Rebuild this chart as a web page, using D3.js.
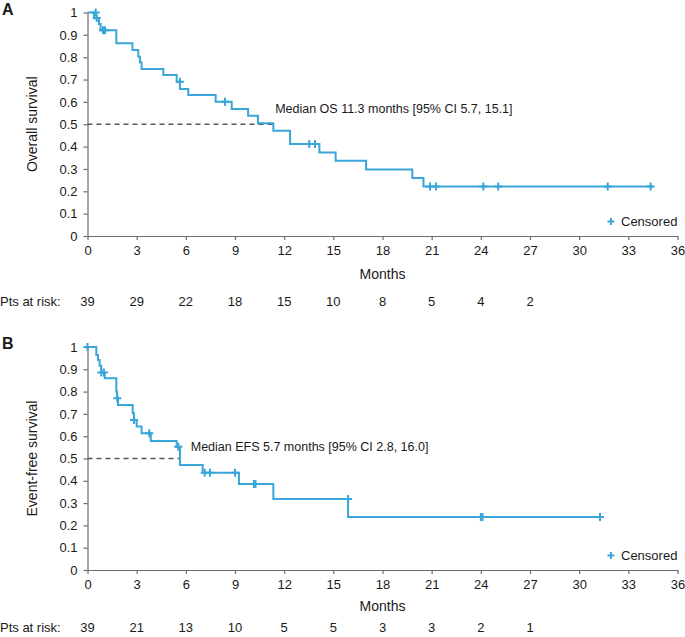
<!DOCTYPE html>
<html><head><meta charset="utf-8">
<script src="https://cdn.jsdelivr.net/npm/d3@7"></script>
<style>body{margin:0;background:#fff}svg{display:block}text{font-family:"Liberation Sans",Arial,sans-serif;fill:#1a1a1a}</style>
</head><body><svg id="c" width="685" height="637"></svg>
<script>
const xTicks = [0,3,6,9,12,15,18,21,24,27,30,33,36];
const yTicks = [0,0.1,0.2,0.3,0.4,0.5,0.6,0.7,0.8,0.9,1];
const yTickLabels = ["0","0.1","0.2","0.3","0.4","0.5","0.6","0.7","0.8","0.9","1"];
const riskTimes = [0,3,6,9,12,15,18,21,24,27];

// Panel A: overall survival
const osTime = [0,0.4,0.7,0.8,1.76,2.74,3.1,3.2,3.3,4.63,5.44,5.64,6.15,7.82,8.8,9.8,10.4,11.34,12.36,14.15,15.14,17.0,19.82,20.5,34.5];
const osSurv = [1,0.974,0.949,0.921,0.862,0.832,0.802,0.777,0.747,0.72,0.69,0.658,0.631,0.601,0.568,0.538,0.504,0.471,0.412,0.374,0.337,0.298,0.26,0.221,0.221];
const osCensTime = [0.5,0.56,0.95,1.07,5.64,8.39,13.53,13.88,20.9,21.26,24.15,25.06,31.74,34.36];
const osCensSurv = [1,0.975,0.921,0.921,0.69,0.601,0.412,0.412,0.221,0.221,0.221,0.221,0.221,0.221];
const osRisk = [39,29,22,18,15,10,8,5,4,2];

// Panel B: event-free survival
const efsTime = [0,0.54,0.64,0.74,0.84,1.05,1.76,1.80,1.86,2.76,2.84,3.0,3.3,3.86,5.44,5.64,7.03,9.24,11.34,15.9,31.45];
const efsSurv = [1,0.964,0.942,0.916,0.886,0.86,0.80,0.77,0.74,0.703,0.673,0.643,0.613,0.578,0.553,0.471,0.436,0.386,0.318,0.238,0.238];
const efsCensTime = [0,0.84,1.0,1.82,2.84,3.77,5.54,7.15,7.47,9.0,10.15,10.25,15.9,24.0,24.1,31.27];
const efsCensSurv = [1,0.886,0.886,0.77,0.673,0.613,0.553,0.436,0.436,0.436,0.386,0.386,0.318,0.238,0.238,0.238];
const efsRisk = [39,21,13,10,5,5,3,3,2,1];

const panels = [
  {letter:"A", ylabel:"Overall survival", time:osTime, surv:osSurv, ct:osCensTime, cs:osCensSurv, risk:osRisk,
   median:11.3, medText:"Median OS 11.3 months [95% CI 5.7, 15.1]", medX:11.45, medY:0.55, top:12.5, bottom:236,
   monthsY:43, riskY:70},
  {letter:"B", ylabel:"Event-free survival", time:efsTime, surv:efsSurv, ct:efsCensTime, cs:efsCensSurv, risk:efsRisk,
   median:5.7, medText:"Median EFS 5.7 months [95% CI 2.8, 16.0]", medX:6.3, medY:0.533, top:347, bottom:570,
   monthsY:41, riskY:62}
];

const blue = "#3aa5d8";
const axisCol = "#6b6b6b";
const svg = d3.select("#c");
const x = d3.scaleLinear().domain([0,36]).range([87.5,677.5]);

panels.forEach(p => {
  const y = d3.scaleLinear().domain([0,1]).range([p.bottom,p.top]);
  const g = svg.append("g");
  g.append("text").attr("x",2).attr("y",p.top+2).attr("font-size",16).attr("font-weight","bold").text(p.letter);

  const ya = g.append("g").attr("transform",`translate(${x(0)},0)`)
    .call(d3.axisLeft(y).tickValues(yTicks).tickFormat((d,i)=>yTickLabels[i]).tickSize(4).tickSizeOuter(0).tickPadding(6));
  const xa = g.append("g").attr("transform",`translate(0,${p.bottom})`)
    .call(d3.axisBottom(x).tickValues(xTicks).tickSize(4).tickSizeOuter(0).tickPadding(6));
  [ya,xa].forEach(a=>{
    a.select(".domain").attr("stroke",axisCol).attr("stroke-width",1.2);
    a.selectAll(".tick line").attr("stroke",axisCol).attr("stroke-width",1.2);
    a.selectAll(".tick text").attr("font-size",13).attr("fill","#1a1a1a").attr("font-family","Liberation Sans, Arial, sans-serif");
  });

  g.append("text").attr("transform",`translate(37,${(p.top+p.bottom)/2}) rotate(-90)`)
    .attr("text-anchor","middle").attr("font-size",14).text(p.ylabel);
  g.append("text").attr("x",x(18)).attr("y",p.bottom+p.monthsY).attr("text-anchor","middle").attr("font-size",14).text("Months");
  g.append("text").attr("x",0).attr("y",p.bottom+p.riskY).attr("font-size",13).text("Pts at risk:");
  g.selectAll(".risk").data(p.risk).enter().append("text")
    .attr("x",(d,i)=>x(riskTimes[i])).attr("y",p.bottom+p.riskY).attr("text-anchor","middle").attr("font-size",13).text(d=>d);

  // median dashed line
  g.append("line").attr("x1",x(0)).attr("x2",x(p.median)).attr("y1",y(0.5)).attr("y2",y(0.5))
    .attr("stroke","#555").attr("stroke-width",1.3).attr("stroke-dasharray","5,4");
  g.append("text").attr("x",x(p.medX)).attr("y",y(p.medY)).attr("font-size",12.5).text(p.medText);

  const pts = p.time.map((t,i)=>[t,p.surv[i]]);
  const line = d3.line().x(d=>x(d[0])).y(d=>y(d[1])).curve(d3.curveStepAfter);
  g.append("path").attr("d",line(pts)).attr("fill","none").attr("stroke",blue).attr("stroke-width",2);

  const cens = p.ct.map((t,i)=>[t,p.cs[i]]);
  const arm = 4;
  g.selectAll(".cens").data(cens).enter().append("path")
    .attr("d",d=>{const cx=x(d[0]),cy=y(d[1]);return `M${cx-arm},${cy}H${cx+arm}M${cx},${cy-arm}V${cy+arm}`;})
    .attr("stroke",blue).attr("stroke-width",2).attr("fill","none");

  // legend
  const lx = 611, ly = p.bottom - 14.5;
  g.append("path").attr("d",`M${lx-3.5},${ly}H${lx+3.5}M${lx},${ly-3.5}V${ly+3.5}`).attr("stroke",blue).attr("stroke-width",2);
  g.append("text").attr("x",lx+10).attr("y",ly+4.5).attr("font-size",13).text("Censored");
});
</script></body></html>
